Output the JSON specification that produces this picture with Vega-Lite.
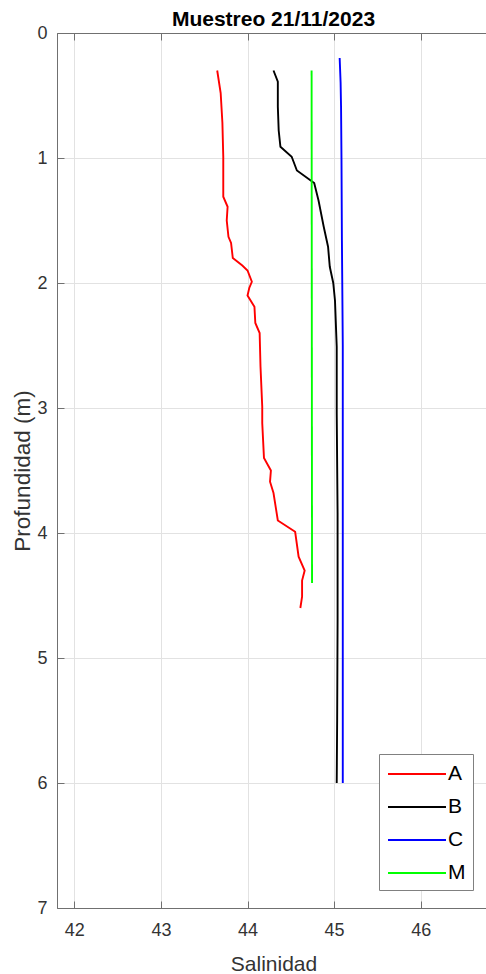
{
  "$schema": "https://vega.github.io/schema/vega-lite/v6.json",
  "autosize": "none",
  "padding": {"left": 57, "top": 33, "right": 0, "bottom": 66},
  "width": 433,
  "height": 875,
  "background": "#ffffff",
  "title": {"text": "Muestreo 21/11/2023", "fontSize": 21, "fontWeight": "bold", "font": "Liberation Sans", "color": "#000000", "offset": -6, "anchor": "middle"},
  "config": {
    "view": {"stroke": "#707070", "strokeWidth": 1},
    "axis": {"labelFont": "Liberation Sans", "titleFont": "Liberation Sans", "labelColor": "#333333", "titleColor": "#333333", "domainColor": "#707070", "tickColor": "#707070", "gridColor": "#e2e2e2", "labelFontSize": 18, "titleFontWeight": "normal"}
  },
  "data": {"values": [
    {"serie": "A", "prof": 0.30, "sal": 43.65},
    {"serie": "A", "prof": 0.48, "sal": 43.69},
    {"serie": "A", "prof": 0.72, "sal": 43.71},
    {"serie": "A", "prof": 0.99, "sal": 43.72},
    {"serie": "A", "prof": 1.31, "sal": 43.72},
    {"serie": "A", "prof": 1.39, "sal": 43.77},
    {"serie": "A", "prof": 1.50, "sal": 43.76},
    {"serie": "A", "prof": 1.63, "sal": 43.78},
    {"serie": "A", "prof": 1.68, "sal": 43.81},
    {"serie": "A", "prof": 1.80, "sal": 43.83},
    {"serie": "A", "prof": 1.86, "sal": 43.94},
    {"serie": "A", "prof": 1.90, "sal": 44.00},
    {"serie": "A", "prof": 1.99, "sal": 44.05},
    {"serie": "A", "prof": 2.04, "sal": 44.02},
    {"serie": "A", "prof": 2.10, "sal": 44.00},
    {"serie": "A", "prof": 2.19, "sal": 44.08},
    {"serie": "A", "prof": 2.32, "sal": 44.09},
    {"serie": "A", "prof": 2.40, "sal": 44.14},
    {"serie": "A", "prof": 2.67, "sal": 44.15},
    {"serie": "A", "prof": 2.99, "sal": 44.17},
    {"serie": "A", "prof": 3.12, "sal": 44.17},
    {"serie": "A", "prof": 3.40, "sal": 44.19},
    {"serie": "A", "prof": 3.50, "sal": 44.27},
    {"serie": "A", "prof": 3.59, "sal": 44.26},
    {"serie": "A", "prof": 3.68, "sal": 44.30},
    {"serie": "A", "prof": 3.90, "sal": 44.35},
    {"serie": "A", "prof": 3.99, "sal": 44.55},
    {"serie": "A", "prof": 4.19, "sal": 44.59},
    {"serie": "A", "prof": 4.30, "sal": 44.66},
    {"serie": "A", "prof": 4.38, "sal": 44.63},
    {"serie": "A", "prof": 4.51, "sal": 44.63},
    {"serie": "A", "prof": 4.60, "sal": 44.61},
    {"serie": "B", "prof": 0.30, "sal": 44.30},
    {"serie": "B", "prof": 0.39, "sal": 44.35},
    {"serie": "B", "prof": 0.59, "sal": 44.35},
    {"serie": "B", "prof": 0.78, "sal": 44.36},
    {"serie": "B", "prof": 0.91, "sal": 44.38},
    {"serie": "B", "prof": 0.99, "sal": 44.51},
    {"serie": "B", "prof": 1.10, "sal": 44.57},
    {"serie": "B", "prof": 1.18, "sal": 44.73},
    {"serie": "B", "prof": 1.20, "sal": 44.77},
    {"serie": "B", "prof": 1.34, "sal": 44.82},
    {"serie": "B", "prof": 1.55, "sal": 44.88},
    {"serie": "B", "prof": 1.71, "sal": 44.93},
    {"serie": "B", "prof": 1.87, "sal": 44.95},
    {"serie": "B", "prof": 2.00, "sal": 44.99},
    {"serie": "B", "prof": 2.14, "sal": 45.01},
    {"serie": "B", "prof": 2.51, "sal": 45.03},
    {"serie": "B", "prof": 3.04, "sal": 45.03},
    {"serie": "B", "prof": 3.84, "sal": 45.04},
    {"serie": "B", "prof": 4.70, "sal": 45.04},
    {"serie": "B", "prof": 5.50, "sal": 45.035},
    {"serie": "B", "prof": 6.00, "sal": 45.03},
    {"serie": "C", "prof": 0.20, "sal": 45.064},
    {"serie": "C", "prof": 0.40, "sal": 45.075},
    {"serie": "C", "prof": 0.59, "sal": 45.08},
    {"serie": "C", "prof": 1.00, "sal": 45.085},
    {"serie": "C", "prof": 1.66, "sal": 45.09},
    {"serie": "C", "prof": 2.50, "sal": 45.10},
    {"serie": "C", "prof": 4.00, "sal": 45.10},
    {"serie": "C", "prof": 5.00, "sal": 45.10},
    {"serie": "C", "prof": 6.00, "sal": 45.10},
    {"serie": "M", "prof": 0.30, "sal": 44.74},
    {"serie": "M", "prof": 4.40, "sal": 44.745}
  ]},
  "layer": [
    {
      "mark": {"type": "line", "strokeWidth": 1.9},
      "encoding": {
        "x": {"field": "sal", "type": "quantitative", "scale": {"domain": [41.8, 46.8], "nice": false, "zero": false},
              "axis": {"title": "Salinidad", "titleFontSize": 21, "values": [42, 43, 44, 45, 46], "tickSize": -7, "labelPadding": 20, "titlePadding": 14, "grid": true}},
        "y": {"field": "prof", "type": "quantitative", "scale": {"domain": [0, 7], "reverse": true, "nice": false, "zero": false},
              "axis": {"title": "Profundidad (m)", "titleFontSize": 22.5, "values": [0, 1, 2, 3, 4, 5, 6, 7], "tickSize": -7, "labelPadding": 17, "titlePadding": 2, "grid": true}},
        "color": {"field": "serie", "type": "nominal",
                  "scale": {"domain": ["A", "B", "C", "M"], "range": ["#ff0000", "#000000", "#0000ff", "#00ff00"]},
                  "legend": {"orient": "none", "legendX": 322, "legendY": 721, "title": null, "symbolType": "M-2.5,0H2.5", "symbolSize": 538, "symbolStrokeWidth": 2, "symbolOffset": 18, "labelFontSize": 21, "labelFont": "Liberation Sans", "labelColor": "#000000", "strokeColor": "#808080", "fillColor": "#ffffff", "padding": 7, "rowPadding": 10, "labelOffset": 18}},
        "order": {"field": "prof", "type": "quantitative"}
      }
    },
    {
      "mark": {"type": "point", "opacity": 0},
      "encoding": {
        "x": {"field": "sal", "type": "quantitative", "scale": {"domain": [41.8, 46.8], "nice": false, "zero": false},
              "axis": {"orient": "top", "title": null, "labels": false, "values": [42, 43, 44, 45, 46], "tickSize": -7, "grid": false}}
      }
    }
  ],
  "resolve": {"axis": {"x": "independent"}}
}
